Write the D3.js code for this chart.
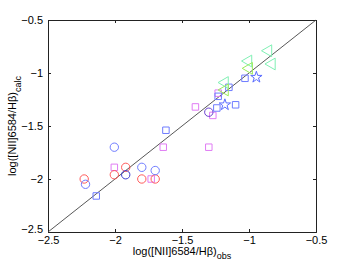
<!DOCTYPE html>
<html>
<head>
<meta charset="utf-8">
<script src="https://cdn.jsdelivr.net/npm/d3@7"></script>
<style>
  body { margin: 0; background: #fff; }
  text { font-family: "Liberation Sans", Arial, sans-serif; }
</style>
</head>
<body>
<div id="chart"></div>
<script>
// log([NII]6584/Hb): [observed, calculated]
const ticks = [-2.5, -2, -1.5, -1, -0.5];
const redCircles = [[-2.23, -2.00], [-2.005, -1.96], [-1.92, -1.89], [-1.80, -2.00], [-1.70, -2.00]];
const blueCircles = [[-2.005, -1.70], [-2.22, -2.05], [-1.80, -1.89], [-1.70, -1.92]];
const darkBlueCircles = [[-1.92, -1.96]];
const purpleCircles = [[-1.30, -1.37]];
const pinkSquares = [[-2.005, -1.89], [-1.73, -2.00], [-1.64, -1.70], [-1.30, -1.70], [-1.40, -1.32], [-1.27, -1.40], [-1.23, -1.19]];
const blueSquares = [[-2.14, -2.16], [-1.62, -1.54], [-1.24, -1.33], [-1.10, -1.30], [-1.23, -1.22], [-1.15, -1.135], [-1.03, -1.05]];
const blueStars = [[-0.945, -1.04], [-1.18, -1.30]];
const cyanTriangles = [[-1.005, -0.887], [-0.856, -0.79], [-0.83, -0.915], [-1.18, -1.09]];
const limeTriangles = [[-1.0, -0.956], [-1.18, -1.16]];

const width = 349, height = 263;
const margin = {top: 20, right: 33, bottom: 31, left: 48};

const svg = d3.select('#chart').append('svg')
    .attr('width', width)
    .attr('height', height);

const x = d3.scaleLinear().domain([-2.5, -0.5]).range([margin.left, width - margin.right]);
const y = d3.scaleLinear().domain([-2.5, -0.5]).range([height - margin.bottom, margin.top]);

const fmt = d => d3.format('')(d).replace('-', '\u2212');

// axes, ticks inside on all four sides
svg.append('g').attr('transform', `translate(0,${y(-2.5)})`)
    .call(d3.axisBottom(x).tickValues(ticks).tickSize(-3).tickPadding(4).tickFormat(fmt));
svg.append('g').attr('transform', `translate(0,${y(-0.5)})`)
    .call(d3.axisTop(x).tickValues(ticks).tickSize(-3).tickFormat(''));
const yAxis = svg.append('g').attr('transform', `translate(${x(-2.5)},0)`)
    .call(d3.axisLeft(y).tickValues(ticks).tickSize(-3).tickPadding(5).tickFormat(fmt));
svg.append('g').attr('transform', `translate(${x(-0.5)},0)`)
    .call(d3.axisRight(y).tickValues(ticks).tickSize(-3).tickFormat(''));

svg.selectAll('.domain').attr('stroke', '#222').attr('stroke-width', 1);
svg.selectAll('.tick line').attr('stroke', '#222');
svg.selectAll('.tick text').attr('font-size', 11).attr('fill', '#000');
// lift the bottom y label a touch so it clears the x label
yAxis.selectAll('.tick text').filter(d => d === -2.5).attr('dy', '0.05em');

// 1:1 line
svg.append('line')
    .attr('x1', x(-2.5)).attr('y1', y(-2.5))
    .attr('x2', x(-0.5)).attr('y2', y(-0.5))
    .attr('stroke', '#444').attr('stroke-width', 0.9);

function drawSeries(data, symbol, size, color, rotate) {
    svg.append('g').selectAll('path')
        .data(data)
        .enter()
        .append('path')
        .attr('d', d3.symbol().type(symbol).size(size))
        .attr('transform', d => `translate(${x(d[0])},${y(d[1])})` + (rotate ? ` rotate(${rotate})` : ''))
        .attr('fill', 'none')
        .attr('stroke', color)
        .attr('stroke-width', 1);
}

drawSeries(pinkSquares, d3.symbolSquare, 42, '#e07cf4');
drawSeries(redCircles, d3.symbolCircle, 55, '#ff5a5a');
drawSeries(blueCircles, d3.symbolCircle, 55, '#6f7cff');
drawSeries(darkBlueCircles, d3.symbolCircle, 55, '#3c3cd0');
drawSeries(purpleCircles, d3.symbolCircle, 55, '#6a40d0');
drawSeries(blueSquares, d3.symbolSquare, 42, '#6f7cff');
drawSeries(blueStars, d3.symbolStar, 40, '#5a6cff');
drawSeries(cyanTriangles, d3.symbolTriangle, 60, '#80f0b4', -90);
drawSeries(limeTriangles, d3.symbolTriangle, 60, '#9cec5c', -90);

// labels
const xl = svg.append('text')
    .attr('x', (x(-2.5) + x(-0.5)) / 2)
    .attr('y', 255)
    .attr('text-anchor', 'middle')
    .attr('font-size', 11);
xl.append('tspan').text('log([NII]6584/H\u03b2)');
xl.append('tspan').attr('dy', 4).attr('font-size', 9).text('obs');

const yl = svg.append('text')
    .attr('transform', `translate(16,${(y(-2.5) + y(-0.5)) / 2}) rotate(-90)`)
    .attr('text-anchor', 'middle')
    .attr('font-size', 11);
yl.append('tspan').text('log([NII]6584/H\u03b2)');
yl.append('tspan').attr('dy', 5).attr('font-size', 9).text('calc');
</script>
</body>
</html>
